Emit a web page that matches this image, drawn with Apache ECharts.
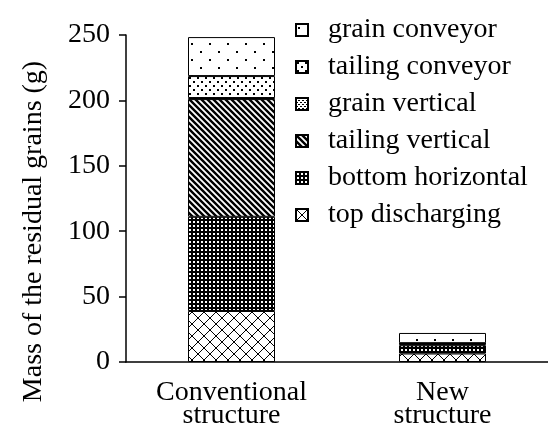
<!DOCTYPE html>
<html>
<head>
<meta charset="utf-8">
<script src="https://cdn.jsdelivr.net/npm/echarts@6/dist/echarts.min.js"></script>
<style>html,body{margin:0;padding:0;background:#fff}#c{width:548px;height:430px}</style>
</head>
<body>
<div id="c"></div>
<script>
const categories = ['Conventional\nstructure', 'New\nstructure'];
const topDischarging = [39, 6.5];
const bottomHorizontal = [72, 6.3];
const tailingVertical = [90, 0.8];
const grainVertical = [0.8, 0.5];
const tailingConveyor = [16.8, 0.3];
const grainConveyor = [29.8, 7.8];
const seriesNames = ['top discharging','bottom horizontal','tailing vertical','grain vertical','tailing conveyor','grain conveyor'];
const legendOrder = ['grain conveyor','tailing conveyor','grain vertical','tailing vertical','bottom horizontal','top discharging'];
const yTicks = [0, 50, 100, 150, 200, 250];

function tile(w, h, draw) {
  const c = document.createElement('canvas');
  c.width = w; c.height = h;
  const g = c.getContext('2d');
  g.fillStyle = '#fff'; g.fillRect(0, 0, w, h);
  g.fillStyle = '#000'; g.strokeStyle = '#000';
  draw(g, w, h);
  return { image: c, repeat: 'repeat' };
}
const patterns = {
  'top discharging': tile(12, 12, (g) => {
    g.lineWidth = 1;
    g.beginPath(); g.moveTo(0, 0); g.lineTo(12, 12); g.moveTo(12, 0); g.lineTo(0, 12); g.stroke();
  }),
  'bottom horizontal': tile(4, 4, (g) => {
    g.fillRect(0, 0, 4, 4); g.fillStyle = '#fff'; g.fillRect(1, 1, 2, 2);
  }),
  'tailing vertical': tile(6, 6, (g) => {
    g.lineWidth = 2.4;
    g.beginPath();
    g.moveTo(-6, 0); g.lineTo(6, 12);
    g.moveTo(0, 0); g.lineTo(6, 6);
    g.moveTo(0, -6); g.lineTo(12, 6);
    g.moveTo(-6, -6); g.lineTo(12, 12);
    g.stroke();
  }),
  'grain vertical': tile(4, 4, (g) => {
    g.fillRect(0, 0, 1, 1); g.fillRect(2, 2, 1, 1); g.fillRect(1, 0, 1, 1); g.fillRect(3, 2, 1, 1);
  }),
  'tailing conveyor': tile(8, 8, (g) => {
    g.fillRect(1, 1, 2, 2); g.fillRect(5, 5, 2, 2);
  }),
  'grain conveyor': tile(18, 16, (g) => {
    g.fillRect(2, 3, 2, 2); g.fillRect(11, 11, 2, 2);
  })
};
const dataMap = {
  'top discharging': topDischarging,
  'bottom horizontal': bottomHorizontal,
  'tailing vertical': tailingVertical,
  'grain vertical': grainVertical,
  'tailing conveyor': tailingConveyor,
  'grain conveyor': grainConveyor
};
const font = 'Liberation Serif';
const chart = echarts.init(document.getElementById('c'), null, { renderer: 'canvas' });
chart.setOption({
  animation: false,
  backgroundColor: '#fff',
  grid: { left: 126, right: -8, top: 35, bottom: 68 },
  legend: {
    orient: 'vertical',
    left: 290, top: 11,
    data: legendOrder,
    icon: 'rect',
    itemWidth: 12, itemHeight: 12,
    itemGap: 9,
    textStyle: { fontFamily: font, fontSize: 28, color: '#000', lineHeight: 28, padding: [0, 0, 0, 15] }
  },
  xAxis: {
    type: 'category',
    data: categories,
    axisLine: { lineStyle: { color: '#000', width: 1.5 } },
    axisTick: { length: 6, lineStyle: { color: '#000', width: 1.5 } },
    axisLabel: { fontFamily: font, fontSize: 28, color: '#000', lineHeight: 23, margin: 19 }
  },
  yAxis: {
    type: 'value',
    min: yTicks[0], max: yTicks[yTicks.length - 1], interval: 50,
    name: 'Mass of the residual grains (g)',
    nameLocation: 'middle', nameGap: 78,
    nameTextStyle: { fontFamily: font, fontSize: 28, color: '#000', padding: [0, 66, 0, 0] },
    axisLine: { show: true, lineStyle: { color: '#000', width: 1.5 } },
    axisTick: { show: true, length: 7, lineStyle: { color: '#000', width: 1.5 } },
    splitLine: { show: false },
    axisLabel: { fontFamily: font, fontSize: 28, color: '#000', margin: 16 }
  },
  series: seriesNames.map(n => ({
    name: n,
    type: 'bar',
    stack: 'total',
    barWidth: 87,
    data: dataMap[n],
    itemStyle: { color: patterns[n], borderColor: '#000', borderWidth: 1 }
  }))
});
</script>
</body>
</html>
